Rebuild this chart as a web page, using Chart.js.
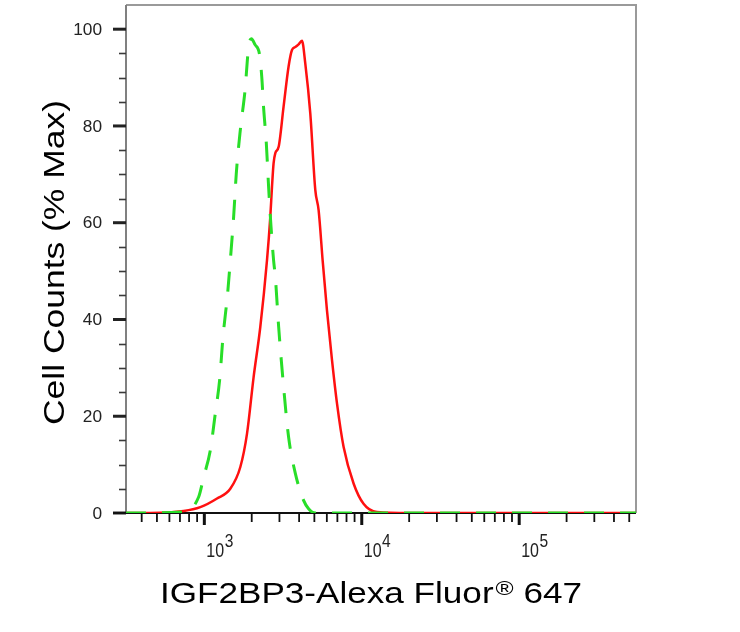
<!DOCTYPE html>
<html><head><meta charset="utf-8">
<script src="https://cdn.jsdelivr.net/npm/chart.js@4.4.1/dist/chart.umd.min.js"></script>
<style>html,body{margin:0;padding:0;background:#fff;} canvas{display:block;}</style>
</head><body>
<canvas id="c" width="740" height="632"></canvas>
<script>
// ---- data ----
const redIntensity = [318, 454, 739, 943, 1204, 1462, 1693, 1867, 2056, 2268, 2500, 2624, 2690, 2754, 2824, 2965, 3187, 3429, 3604, 3784, 3953, 4170, 4375, 4710, 5067, 5320, 5650, 6012, 6471, 6964, 7663, 8872, 10264, 12496, 20000, 100000, 552000];
const redPercent   = [0, 0, 0.4, 1.2, 3.0, 5.0, 9.5, 16.4, 28.1, 38.5, 52.2, 61.2, 67.4, 72.3, 74.4, 75.7, 84, 92.3, 95.7, 96.3, 96.8, 97.6, 93, 82.6, 66.8, 62.6, 52, 41.9, 31.6, 22.6, 13.7, 6.1, 1.9, 0.2, 0, 0, 0];
const greenIntensity = [318, 722, 920, 990, 1092, 1174, 1251, 1314, 1406, 1462, 1535, 1596, 1693, 1821, 1870, 1911, 1990, 2100, 2244, 2318, 2377, 2476, 2560, 2652, 2754, 2824, 2965, 3187, 3429, 3784, 4270, 4594, 5067, 552000];
const greenPercent   = [0, 0.2, 3.3, 7.4, 13, 20.6, 27.5, 36.4, 45.4, 52.2, 61.2, 70.2, 79.2, 88, 93, 96.5, 98, 96.8, 94.7, 90, 84, 76.4, 67.4, 59.2, 52.2, 48.8, 38.5, 26.1, 15.7, 8.2, 2.6, 0.9, 0, 0];

const xMajorTicks = [1000, 10000, 100000];
const xTickExponents = ['3', '4', '5'];
const xMinorTicks = [400, 500, 600, 700, 800, 900, 2000, 3000, 4000, 5000, 6000, 7000, 8000, 9000,
  20000, 30000, 40000, 50000, 60000, 70000, 80000, 90000, 200000, 300000, 400000, 500000];
const yMajorTicks = [0, 20, 40, 60, 80, 100];
const yMinorTicks = [5, 10, 15, 25, 30, 35, 45, 50, 55, 65, 70, 75, 85, 90, 95];
const xTitleParts = ['IGF2BP3-Alexa Fluor', '\u00AE', ' 647'];
const yTitle = 'Cell Counts (% Max)';
const xRange = [318, 552000];
const yRange = [0, 105];

// ---- drawing helpers ----
const FONT = '"Liberation Sans", Arial, sans-serif';
function measure(ctx, s, size) { ctx.save(); ctx.font = size + 'px ' + FONT; const w = ctx.measureText(s).width; ctx.restore(); return w; }
function txt(ctx, s, x, y, size, sx, align, color) {
  ctx.save();
  ctx.font = size + 'px ' + FONT;
  ctx.fillStyle = color || '#000';
  ctx.translate(x, y); ctx.scale(sx, 1);
  ctx.textAlign = align || 'left'; ctx.textBaseline = 'alphabetic';
  ctx.fillText(s, 0, 0);
  ctx.restore();
}

const axesPlugin = {
  id: 'flowAxes',
  beforeDatasetsDraw(chart) {
    const { ctx, chartArea: a, scales: { x, y } } = chart;
    ctx.save();
    ctx.lineCap = 'butt';
    // top & right frame
    ctx.strokeStyle = '#9a9a9a'; ctx.lineWidth = 2;
    ctx.beginPath(); ctx.moveTo(a.left, a.top); ctx.lineTo(a.right, a.top); ctx.lineTo(a.right, a.bottom); ctx.stroke();
    // left axis line
    ctx.strokeStyle = '#808080';
    ctx.beginPath(); ctx.moveTo(a.left, a.top); ctx.lineTo(a.left, a.bottom); ctx.stroke();
    // y ticks
    ctx.strokeStyle = '#3a3a3a'; ctx.lineWidth = 1.6;
    yMinorTicks.forEach(v => { const p = Math.round(y.getPixelForValue(v)) + 0.5; ctx.beginPath(); ctx.moveTo(a.left - 7, p); ctx.lineTo(a.left, p); ctx.stroke(); });
    ctx.strokeStyle = '#222'; ctx.lineWidth = 3;
    yMajorTicks.forEach(v => { const p = y.getPixelForValue(v); ctx.beginPath(); ctx.moveTo(a.left - 13, p); ctx.lineTo(a.left, p); ctx.stroke(); });
    // bottom axis line
    ctx.strokeStyle = '#111'; ctx.lineWidth = 2;
    ctx.beginPath(); ctx.moveTo(a.left - 13, a.bottom); ctx.lineTo(a.right, a.bottom); ctx.stroke();
    // x ticks
    ctx.lineWidth = 1.8; ctx.strokeStyle = '#111';
    xMinorTicks.forEach(v => { const p = x.getPixelForValue(v); ctx.beginPath(); ctx.moveTo(p, a.bottom); ctx.lineTo(p, a.bottom + 9); ctx.stroke(); });
    ctx.lineWidth = 3;
    xMajorTicks.forEach(v => { const p = x.getPixelForValue(v); ctx.beginPath(); ctx.moveTo(p, a.bottom); ctx.lineTo(p, a.bottom + 12); ctx.stroke(); });
    ctx.restore();
  },
  afterDraw(chart) {
    const { ctx, chartArea: a, scales: { x, y } } = chart;
    // y tick labels
    yMajorTicks.forEach(v => {
      const p = y.getPixelForValue(v);
      txt(ctx, String(v), a.left - 24, p + 5.6, 16, 1.08, 'right', '#222');
    });
    // x tick labels 10^n
    xMajorTicks.forEach((v, i) => {
      const p = x.getPixelForValue(v) + 2;
      const w = measure(ctx, '10', 20) * 0.8;
      txt(ctx, '10', p, a.bottom + 44, 20, 0.8, 'left', '#222');
      txt(ctx, xTickExponents[i], p + w + 0.5, a.bottom + 34, 19, 0.82, 'left', '#222');
    });
    // x title
    const w1 = measure(ctx, xTitleParts[0], 30), w2 = measure(ctx, xTitleParts[1], 21), w3 = measure(ctx, xTitleParts[2], 30);
    const sx = 420 / (w1 + w2 + w3);
    let cx = 160; const base = 603;
    txt(ctx, xTitleParts[0], cx, base, 30, sx); cx += w1 * sx + 2;
    txt(ctx, xTitleParts[1], cx, base - 8, 21, sx); cx += w2 * sx;
    txt(ctx, xTitleParts[2], cx, base, 30, sx);
    // y title
    const wy = measure(ctx, yTitle, 30);
    ctx.save();
    ctx.translate(64, 262.5); ctx.rotate(-Math.PI / 2);
    txt(ctx, yTitle, 0, 0, 30, 325 / wy, 'center', '#000');
    ctx.restore();
  }
};

new Chart(document.getElementById('c'), {
  type: 'line',
  data: {
    datasets: [
      { label: 'Isotype control', data: greenIntensity.map((v, i) => ({ x: v, y: greenPercent[i] })),
        borderColor: 'rgb(40,222,40)', borderWidth: 3, borderDash: [20, 16], pointRadius: 0,
        cubicInterpolationMode: 'monotone', fill: false },
      { label: 'IGF2BP3', data: redIntensity.map((v, i) => ({ x: v, y: redPercent[i] })),
        borderColor: '#ff1010', borderWidth: 2.5, pointRadius: 0,
        cubicInterpolationMode: 'monotone', fill: false }
    ]
  },
  options: {
    responsive: false, animation: false, devicePixelRatio: 1, events: [],
    layout: { padding: { left: 126, right: 104, top: 5, bottom: 119 } },
    plugins: { legend: { display: false }, tooltip: { enabled: false } },
    scales: {
      x: { type: 'logarithmic', min: xRange[0], max: xRange[1], display: false },
      y: { type: 'linear', min: yRange[0], max: yRange[1], display: false }
    }
  },
  plugins: [axesPlugin]
});
</script>
</body></html>
